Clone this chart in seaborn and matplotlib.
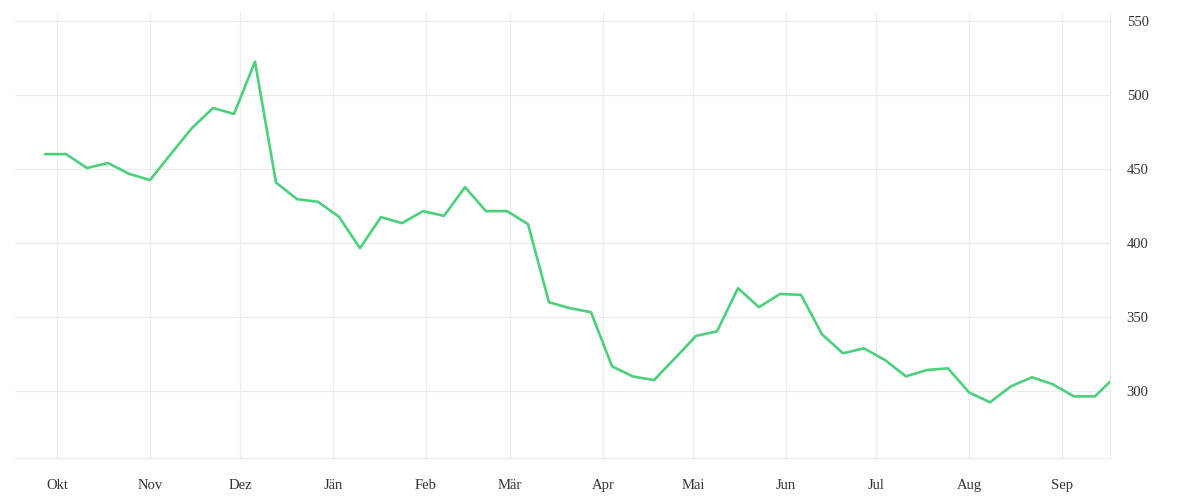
import matplotlib
matplotlib.use("Agg")
import matplotlib.pyplot as plt
import numpy as np
import pandas as pd
import seaborn as sns

# weekly values, plus one partial week at the end
week_start = "2020-09-27"
n_weeks = 51
last_date = "2021-09-17"
values = [
    460.1, 460.1, 450.7, 454.1, 446.8, 442.6, 460.3, 477.7, 491.2, 487.2,
    522.5, 440.9, 429.7, 427.9, 417.8, 396.6, 417.6, 413.5, 421.6, 418.4,
    437.8, 421.6, 421.6, 412.8, 360.1, 356.1, 353.4, 316.9, 310.0, 307.6,
    322.3, 337.4, 340.5, 369.6, 356.8, 365.7, 365.1, 338.5, 325.7, 329.0,
    321.1, 310.1, 314.4, 315.5, 299.3, 292.6, 303.4, 309.5, 304.7, 296.6,
    296.6, 306.5,
]
month_labels = ["Okt", "Nov", "Dez", "Jän", "Feb", "Mär", "Apr", "Mai",
                "Jun", "Jul", "Aug", "Sep"]
y_ticks = [300, 350, 400, 450, 500, 550]

dates = list(pd.date_range(week_start, periods=n_weeks, freq="7D")) + [pd.Timestamp(last_date)]
df = pd.DataFrame({"date": dates, "value": values})

sns.set_theme(style="white")
plt.rcParams["font.family"] = ["Liberation Serif", "DejaVu Serif"]

grid_col = "#ebebeb"
text_col = "#333333"

fig = plt.figure(figsize=(12, 5), dpi=100)
ax = fig.add_axes([0.0125, 0.084, 0.9125, 0.892])

sns.lineplot(data=df, x="date", y="value", color="#4cd07d", linewidth=1.9, ax=ax)

month_ticks = pd.date_range("2020-10-01", periods=12, freq="MS")
ax.set_xticks(month_ticks)
ax.set_xticklabels(month_labels)
ax.set_xlim(pd.Timestamp("2020-09-17"), pd.Timestamp(last_date))
ax.set_ylim(255, 556)
ax.set_yticks(y_ticks)

ax.yaxis.tick_right()
ax.grid(True, color=grid_col, linewidth=0.9)
ax.tick_params(axis="x", length=7, color=grid_col, width=0.9, labelsize=10.5,
               labelcolor=text_col, pad=8)
ax.tick_params(axis="y", length=0, labelsize=10.5, labelcolor=text_col, pad=12)

for side in ["top", "left"]:
    ax.spines[side].set_visible(False)
for side in ["bottom", "right"]:
    ax.spines[side].set_color(grid_col)
    ax.spines[side].set_linewidth(0.9)

ax.set_xlabel("")
ax.set_ylabel("")

fig.savefig("out.png", dpi=100)
